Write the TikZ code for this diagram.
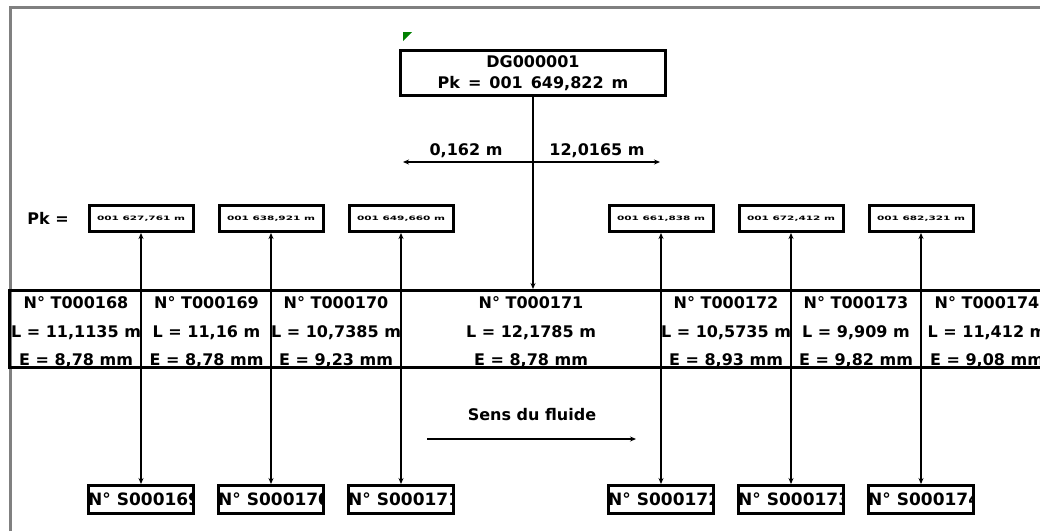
\documentclass[tikz,border=0pt]{standalone}
\usepackage{fontspec}
\setmainfont{DejaVu Sans}
\usetikzlibrary{arrows.meta}
\newcommand\mycell[6]{%
  \begin{scope}
    \clip (#2,291) rectangle (#3,367);
    \node[celltxt] (#1) at ({(#2+#3)/2},308) {N° #4};
    \node[celltxt] at ({(#2+#3)/2},337) {L = #5 m};
    \node[celltxt] at ({(#2+#3)/2},365) {E = #6 mm};
  \end{scope}}
\begin{document}
\begin{tikzpicture}[x=1pt,y=-1pt,
  bigtxt/.style={font=\fontsize{16}{21}\selectfont\bfseries},
  celltxt/.style={font=\fontsize{16}{16}\selectfont\bfseries, anchor=base, inner sep=0pt},
  pkbox/.style={draw, line width=3pt, fill=white, minimum width=104pt, minimum height=26pt, inner sep=0pt,
    font=\fontsize{6}{6}\selectfont\bfseries},
  sbox/.style={draw, line width=3pt, fill=white, minimum width=105pt, minimum height=28pt, inner sep=0pt},
  tip/.tip={Stealth[length=6pt,width=5pt]},
  conn/.style={line width=1.2pt, tip-tip},
  oneway/.style={line width=1.2pt, -tip},
  frame/.style={line width=3pt, draw=black!50}]
\useasboundingbox (0,0) rectangle (1040,531);
\fill[white] (0,0) rectangle (1040,531);
\draw[frame] (10,531) -- (10,7) -- (1040,7);

% green marker
\fill[green!50!black] (403,32) -- (412,32) -- (403,41) -- cycle;

% DG box
\node[draw, line width=3pt, minimum width=265pt, minimum height=45pt, inner sep=0pt, align=center, bigtxt] (dg) at (533,73)
  {DG000001\\\spaceskip=0.5em Pk = 001 649,822 m};

% dimension line
\coordinate (dl) at (403,162);
\coordinate (dr) at (660,162);
\draw[conn] (dl) -- (dr);
\node[bigtxt] (d1) at (466,151) {0,162 m};
\node[bigtxt] (d2) at (597,151) {12,0165 m};

% Pk label
\node[bigtxt] (pklab) at (48,218) {Pk =};

% Pk boxes
\node[pkbox] (pk1) at (141,218.5) {\scalebox{1.75}[1]{001 627,761 m}};
\node[pkbox] (pk2) at (271,218.5) {\scalebox{1.75}[1]{001 638,921 m}};
\node[pkbox] (pk3) at (401,218.5) {\scalebox{1.75}[1]{001 649,660 m}};
\node[pkbox] (pk4) at (661,218.5) {\scalebox{1.75}[1]{001 661,838 m}};
\node[pkbox] (pk5) at (791,218.5) {\scalebox{1.75}[1]{001 672,412 m}};
\node[pkbox] (pk6) at (921,218.5) {\scalebox{1.75}[1]{001 682,321 m}};

% S boxes
\foreach \i/\x/\t in {1/141/169,2/271/170,3/401/171,4/661/172,5/791/173,6/921/174}{
  \node[sbox] (s\i) at (\x,499.5) {};
  \begin{scope}
    \clip (\x-53,487) rectangle (\x+51,512);
    \node[font=\fontsize{17}{17}\selectfont\bfseries, anchor=west, inner sep=0pt] at (\x-53,499.5) {N° S000\t};
  \end{scope}
}

% table
\node[draw, line width=3pt, minimum width=1050pt, minimum height=77pt, inner sep=0pt] (tbl) at (534.5,329) {};
\mycell{c1}{10}{142}{T000168}{11,1135}{8,78}
\mycell{c2}{142}{271}{T000169}{11,16}{8,78}
\mycell{c3}{271}{401}{T000170}{10,7385}{9,23}
\mycell{c4}{401}{661}{T000171}{12,1785}{8,78}
\mycell{c5}{661}{791}{T000172}{10,5735}{8,93}
\mycell{c6}{791}{921}{T000173}{9,909}{9,82}
\mycell{c7}{921}{1053}{T000174}{11,412}{9,08}

% connectors
\foreach \i in {1,...,6}{
  \draw[conn] (pk\i.south) -- (s\i.north);
}
\draw[oneway] (dg.south) -- (dg.south |- tbl.north);

% flow direction
\node[bigtxt] (sens) at (532,415) {Sens du fluide};
\coordinate (fa) at (427,439);
\coordinate (fb) at (636,439);
\draw[oneway] (fa) -- (fb);
\end{tikzpicture}
\end{document}
